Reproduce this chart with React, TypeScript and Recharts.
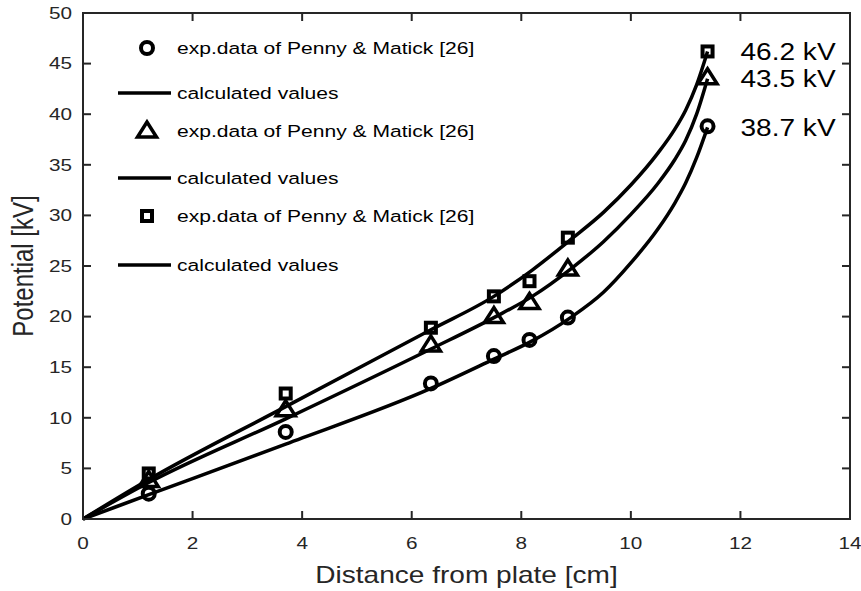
import React from 'react';
import { ComposedChart, Line, Scatter, XAxis, YAxis, Legend, ReferenceArea } from 'recharts';

const xTicks = [0, 2, 4, 6, 8, 10, 12, 14];
const yTicks = [0, 5, 10, 15, 20, 25, 30, 35, 40, 45, 50];

// exp. data of Penny & Matick [26]
const expX = [1.2, 3.7, 6.35, 7.5, 8.15, 8.85, 11.4];
const expCircle = [2.5, 8.6, 13.4, 16.1, 17.7, 19.9, 38.8];
const expTriangle = [3.8, 10.8, 17.2, 20.0, 21.4, 24.7, 43.6];
const expSquare = [4.5, 12.4, 18.9, 22.0, 23.5, 27.8, 46.2];

// calculated values
const calcX = [0, 1.2, 3.7, 6.35, 7.5, 8.2, 8.9, 9.5, 10, 10.5, 10.8, 11, 11.2, 11.4];
const calcCircle = [0, 2.4, 7.4, 12.9, 15.8, 17.6, 19.9, 22.4, 25.3, 28.7, 31.2, 33.2, 35.7, 38.7];
const calcTriangle = [0, 3.6, 9.9, 16.8, 19.9, 22.0, 24.7, 27.4, 30.1, 33.2, 35.5, 37.4, 40.0, 43.5];
const calcSquare = [0, 3.9, 11.1, 18.7, 22.0, 24.6, 27.6, 30.3, 33.0, 36.2, 38.5, 40.4, 42.9, 46.2];

const voltageLabels = ['46.2 kV', '43.5 kV', '38.7 kV'];
const voltageValues = [46.2, 43.5, 38.7];
const voltageX = 12;

const legendItems = [
  { kind: 'circle', label: 'exp.data of Penny & Matick [26]' },
  { kind: 'line', label: 'calculated values' },
  { kind: 'triangle', label: 'exp.data of Penny & Matick [26]' },
  { kind: 'line', label: 'calculated values' },
  { kind: 'square', label: 'exp.data of Penny & Matick [26]' },
  { kind: 'line', label: 'calculated values' },
];

const toPoints = (xs: number[], ys: number[]) => xs.map((x, i) => ({ x, y: ys[i] }));

const FONT = '"Liberation Sans", Arial, sans-serif';
const AXIS = '#262626';
const SX = 1.22;

// chart frame
const W = 861;
const H = 591;
const MARGIN = { top: 13, right: 11, bottom: 0, left: 0 };
const X_AXIS_H = 72;
const Y_AXIS_W = 83;
const PLOT_LEFT = MARGIN.left + Y_AXIS_W;
const PLOT_RIGHT = W - MARGIN.right;
const PLOT_TOP = MARGIN.top;
const PLOT_BOTTOM = H - MARGIN.bottom - X_AXIS_H;
const TICK = 8;

const drawMarker = (kind: string, cx: number, cy: number) => {
  if (kind === 'circle') {
    return <circle cx={cx} cy={cy} r={6} fill="none" stroke="#000" strokeWidth={4} />;
  }
  if (kind === 'triangle') {
    return (
      <polygon
        points={`${cx},${cy - 9} ${cx - 9.5},${cy + 6} ${cx + 9.5},${cy + 6}`}
        fill="none"
        stroke="#000"
        strokeWidth={3.5}
      />
    );
  }
  return <rect x={cx - 5} y={cy - 5} width={10} height={10} fill="none" stroke="#000" strokeWidth={4} />;
};

// inward ticks on bottom and top, label below
const XTick = ({ x, payload }: any) => (
  <g>
    <line x1={x} y1={PLOT_BOTTOM} x2={x} y2={PLOT_BOTTOM - TICK} stroke={AXIS} strokeWidth={2} />
    <line x1={x} y1={PLOT_TOP} x2={x} y2={PLOT_TOP + TICK} stroke={AXIS} strokeWidth={2} />
    <text
      transform={`translate(${x},${PLOT_BOTTOM + 24}) scale(${SX},1)`}
      textAnchor="middle"
      dominantBaseline="central"
      fontSize={17}
      fontFamily={FONT}
      fill={AXIS}
    >
      {payload.value}
    </text>
  </g>
);

// inward ticks on left and right, label left
const YTick = ({ y, payload }: any) => (
  <g>
    <line x1={PLOT_LEFT} y1={y} x2={PLOT_LEFT + TICK} y2={y} stroke={AXIS} strokeWidth={2} />
    <line x1={PLOT_RIGHT} y1={y} x2={PLOT_RIGHT - TICK} y2={y} stroke={AXIS} strokeWidth={2} />
    <text
      transform={`translate(${PLOT_LEFT - 11},${y}) scale(${SX},1)`}
      textAnchor="end"
      dominantBaseline="central"
      fontSize={17}
      fontFamily={FONT}
      fill={AXIS}
    >
      {payload.value}
    </text>
  </g>
);

const XLabel = () => (
  <text
    transform={`translate(${(PLOT_LEFT + PLOT_RIGHT) / 2},${PLOT_BOTTOM + 56}) scale(${SX},1)`}
    textAnchor="middle"
    dominantBaseline="central"
    fontSize={23}
    fontFamily={FONT}
    fill={AXIS}
  >
    Distance from plate [cm]
  </text>
);

const YLabel = () => (
  <text
    transform={`translate(23,${(PLOT_TOP + PLOT_BOTTOM) / 2}) scale(${SX},1) rotate(-90)`}
    textAnchor="middle"
    dominantBaseline="central"
    fontSize={24}
    fontFamily={FONT}
    fill={AXIS}
  >
    Potential [kV]
  </text>
);

const rowY = [48, 93, 131, 178, 216, 265];

const LegendBox = () => (
  <svg width={500} height={290} style={{ display: 'block' }}>
    {legendItems.map((item, i) => (
      <g key={i}>
        {item.kind === 'line' ? (
          <line x1={118} x2={171} y1={rowY[i]} y2={rowY[i]} stroke="#000" strokeWidth={3.5} />
        ) : (
          drawMarker(item.kind, 147, rowY[i])
        )}
        <text
          transform={`translate(177,${rowY[i]}) scale(1.24,1)`}
          dominantBaseline="central"
          fontSize={17}
          fontFamily={FONT}
          fill="#000"
        >
          {item.label}
        </text>
      </g>
    ))}
  </svg>
);

const VoltageText = ({ cx, cy, payload }: any) => (
  <text
    transform={`translate(${cx},${cy}) scale(1.17,1)`}
    dominantBaseline="central"
    fontSize={24}
    fontFamily={FONT}
    fill="#000"
  >
    {payload.label}
  </text>
);

export default function App() {
  const voltages = voltageValues.map((v, i) => ({ x: voltageX, y: v, label: voltageLabels[i] }));
  const curves = [calcCircle, calcTriangle, calcSquare];
  const exps = [
    { kind: 'circle', ys: expCircle },
    { kind: 'triangle', ys: expTriangle },
    { kind: 'square', ys: expSquare },
  ];

  return (
    <div style={{ position: 'absolute', left: 0, top: 0, background: '#fff' }}>
      <ComposedChart width={W} height={H} margin={MARGIN}>
        <XAxis
          dataKey="x"
          type="number"
          domain={[0, 14]}
          ticks={xTicks}
          interval={0}
          height={X_AXIS_H}
          tickLine={false}
          tick={<XTick />}
          axisLine={false}
          label={<XLabel />}
        />
        <YAxis
          type="number"
          domain={[0, 50]}
          ticks={yTicks}
          interval={0}
          width={Y_AXIS_W}
          tickLine={false}
          tick={<YTick />}
          axisLine={false}
          label={<YLabel />}
        />
        <ReferenceArea x1={0} x2={14} y1={0} y2={50} fill="none" stroke={AXIS} strokeWidth={2} strokeOpacity={1} />
        {curves.map((ys, i) => (
          <Line
            key={`calc-${i}`}
            data={toPoints(calcX, ys)}
            dataKey="y"
            type="monotone"
            stroke="#000"
            strokeWidth={3.5}
            dot={false}
            isAnimationActive={false}
          />
        ))}
        {exps.map((s) => (
          <Scatter
            key={s.kind}
            data={toPoints(expX, s.ys)}
            dataKey="y"
            isAnimationActive={false}
            shape={(p: any) => drawMarker(s.kind, p.cx, p.cy)}
          />
        ))}
        <Scatter data={voltages} dataKey="y" isAnimationActive={false} shape={<VoltageText />} />
        <Legend
          layout="vertical"
          align="center"
          verticalAlign="middle"
          content={() => <LegendBox />}
          wrapperStyle={{ left: 0, top: 0, width: 500, height: 290 }}
        />
      </ComposedChart>
    </div>
  );
}
